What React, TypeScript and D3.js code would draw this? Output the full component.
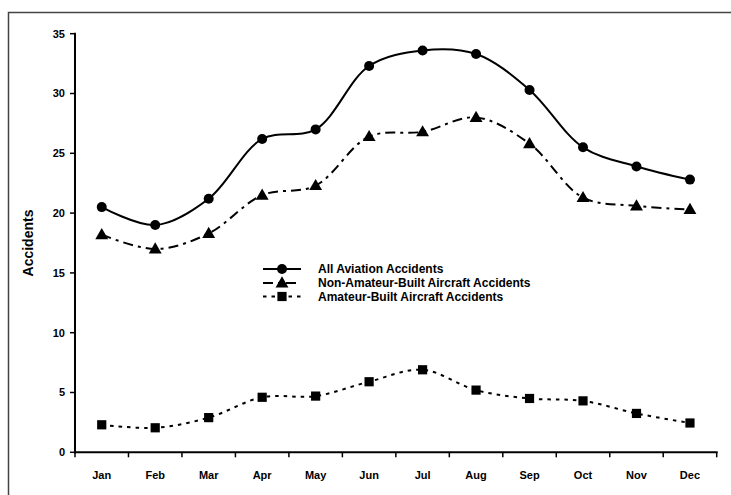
import { useMemo } from "react"
import * as d3 from "d3"

const months = ["Jan", "Feb", "Mar", "Apr", "May", "Jun", "Jul", "Aug", "Sep", "Oct", "Nov", "Dec"]
const allAccidents = [20.5, 19.0, 21.2, 26.2, 27.0, 32.3, 33.6, 33.3, 30.3, 25.5, 23.9, 22.8]
const nonAmateur = [18.2, 17.0, 18.3, 21.5, 22.3, 26.4, 26.8, 28.0, 25.8, 21.3, 20.6, 20.3]
const amateur = [2.3, 2.05, 2.9, 4.6, 4.7, 5.9, 6.9, 5.2, 4.5, 4.3, 3.25, 2.45]
const yTicks = [0, 5, 10, 15, 20, 25, 30, 35]
const legendLabels = ["All Aviation Accidents", "Non-Amateur-Built Aircraft Accidents", "Amateur-Built Aircraft Accidents"]

const X0 = 75, X1 = 716.7, Y0 = 452.3, Y1 = 33.7
const FONT = "Arial, 'Liberation Sans', sans-serif"

type Marker = "circle" | "triangle" | "square"

function MarkerShape({ kind, x, y }: { kind: Marker; x: number; y: number }) {
  if (kind === "circle") return <circle cx={x} cy={y} r={5} fill="#000" />
  if (kind === "square") return <rect x={x - 4.6} y={y - 4.6} width={9.2} height={9.2} fill="#000" />
  const p = d3.symbol(d3.symbolTriangle, 72)()
  return <path d={p!} transform={`translate(${x},${y + 0.8})`} fill="#000" />
}

export default function App() {
  const x = useMemo(() => d3.scaleBand().domain(months).range([X0, X1]), [])
  const y = useMemo(() => d3.scaleLinear().domain([0, 35]).range([Y0, Y1]), [])
  const cx = (m: string) => x(m)! + x.bandwidth() / 2

  const series: { values: number[]; marker: Marker; dash: string | undefined }[] = [
    { values: allAccidents, marker: "circle", dash: undefined },
    { values: nonAmateur, marker: "triangle", dash: "10,5,3,5" },
    { values: amateur, marker: "square", dash: "3.5,5" },
  ]

  const line = d3.line<number>()
    .x((_, i) => cx(months[i]))
    .y(v => y(v))
    .curve(d3.curveCatmullRom.alpha(0.5))

  const legendY = [269, 283, 296.5]

  return (
    <svg width={731} height={495} style={{ position: "absolute", left: 0, top: 0, fontFamily: FONT }}>
      <rect x={0} y={0} width={731} height={495} fill="#fff" />
      {/* frame */}
      <path d="M8.5,495 V12.5 H731" fill="none" stroke="#444" strokeWidth={1.5} />

      {/* Y axis */}
      <line x1={X0} x2={X0} y1={Y1 - 1} y2={Y0 + 1} stroke="#000" strokeWidth={2} />
      {yTicks.map(t => (
        <g key={t}>
          <line x1={X0 - 5} x2={X0} y1={y(t)} y2={y(t)} stroke="#000" strokeWidth={1.5} />
          <text x={X0 - 10} y={y(t)} dy="0.35em" textAnchor="end" fontSize={11} fontWeight="bold">{t}</text>
        </g>
      ))}
      <text transform={`translate(33,${(Y0 + Y1) / 2}) rotate(-90)`} textAnchor="middle" fontSize={14} fontWeight="bold">Accidents</text>

      {/* X axis */}
      <line x1={X0 - 1} x2={X1 + 1} y1={Y0} y2={Y0} stroke="#000" strokeWidth={2} />
      {[...months.map(m => x(m)!), X1].map((t, i) => (
        <line key={i} x1={t} x2={t} y1={Y0} y2={Y0 + 5} stroke="#000" strokeWidth={1.5} />
      ))}
      {months.map(m => (
        <text key={m} x={cx(m)} y={475} dy="0.35em" textAnchor="middle" fontSize={11} fontWeight="bold">{m}</text>
      ))}

      {/* series */}
      {series.map((s, si) => (
        <g key={si}>
          <path d={line(s.values)!} fill="none" stroke="#000" strokeWidth={2} strokeDasharray={s.dash} />
          {s.values.map((v, i) => (
            <MarkerShape key={i} kind={s.marker} x={cx(months[i])} y={y(v)} />
          ))}
        </g>
      ))}

      {/* legend */}
      {series.map((s, si) => (
        <g key={si}>
          <line x1={263} x2={301} y1={legendY[si]} y2={legendY[si]} stroke="#000" strokeWidth={2} strokeDasharray={s.dash} />
          <MarkerShape kind={s.marker} x={282} y={legendY[si]} />
          <text x={318} y={legendY[si]} dy="0.35em" fontSize={12} fontWeight="bold">{legendLabels[si]}</text>
        </g>
      ))}
    </svg>
  )
}
